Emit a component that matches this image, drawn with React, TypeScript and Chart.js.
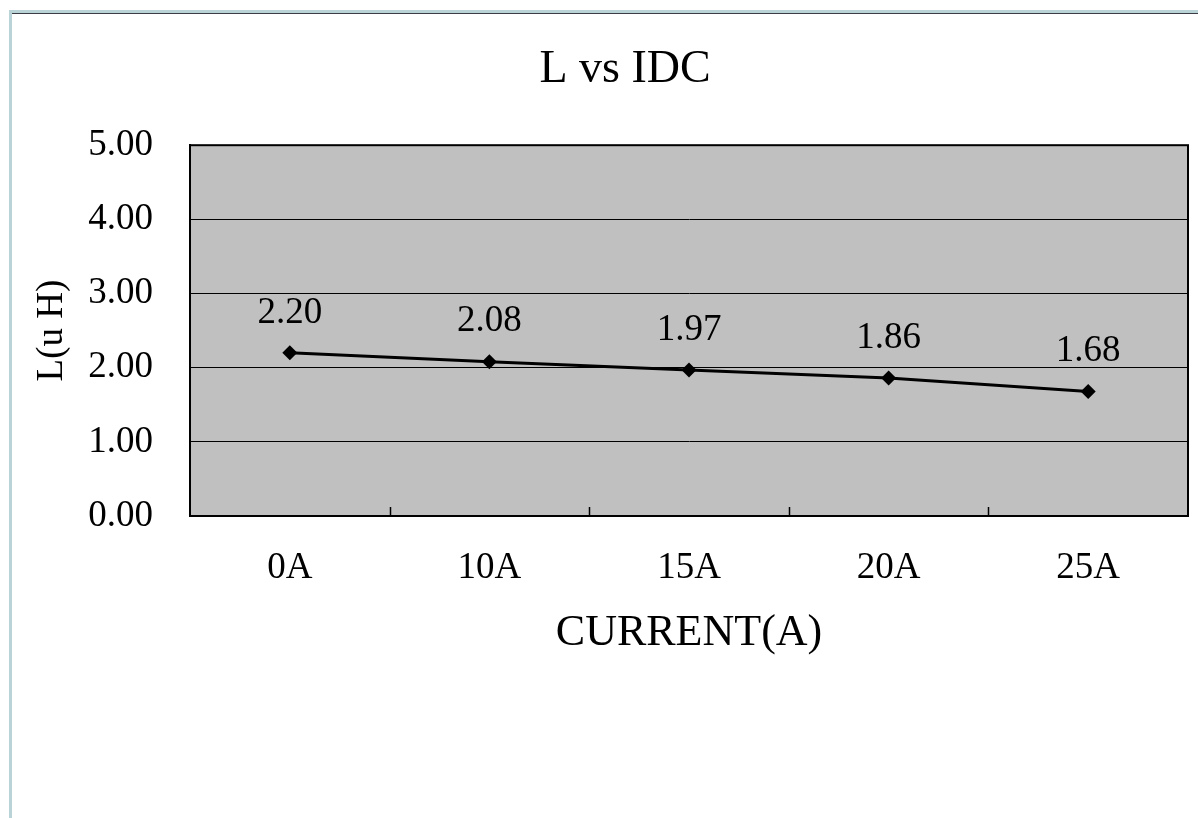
import React, { useEffect, useRef } from "react";
import { Chart, registerables } from "chart.js";

Chart.register(...registerables);

// ---- data ----
const categories = ["0A", "10A", "15A", "20A", "25A"];
const inductance = [2.2, 2.08, 1.97, 1.86, 1.68];
const yTickValues = [0, 1, 2, 3, 4, 5];
const chartTitle = "L vs IDC";
const xAxisTitle = "CURRENT(A)";
const yAxisTitle = "L(u H)";

const FONT = "'Liberation Serif', 'Times New Roman', serif";

const framePlugin = {
  id: "frame",
  beforeDraw(chart: any) {
    const { ctx, width, height, chartArea } = chart;
    ctx.save();
    ctx.fillStyle = "#ffffff";
    ctx.fillRect(0, 0, width, height);
    // outer window-like frame
    ctx.fillStyle = "#b9d3d6";
    ctx.fillRect(9, 10, 3, height - 10);
    ctx.fillRect(9, 10, width - 9, 3);
    ctx.fillStyle = "#3c3c44";
    ctx.fillRect(12, 13, width - 12, 1);
    // plot area background
    ctx.fillStyle = "#c0c0c0";
    ctx.fillRect(
      chartArea.left,
      chartArea.top,
      chartArea.right - chartArea.left,
      chartArea.bottom - chartArea.top
    );
    ctx.restore();
  },
};

const borderPlugin = {
  id: "plotBorder",
  beforeDatasetsDraw(chart: any) {
    const { ctx, chartArea, scales } = chart;
    const x = scales.x;
    ctx.save();
    ctx.strokeStyle = "#000000";
    ctx.lineWidth = 1.5;
    // inner tick marks between categories
    for (let i = 0; i < categories.length - 1; i++) {
      const px = Math.round(
        (x.getPixelForValue(i) + x.getPixelForValue(i + 1)) / 2
      ) + 0.5;
      ctx.beginPath();
      ctx.moveTo(px, chartArea.bottom);
      ctx.lineTo(px, chartArea.bottom - 9);
      ctx.stroke();
    }
    ctx.lineWidth = 2;
    ctx.strokeRect(
      chartArea.left,
      chartArea.top,
      chartArea.right - chartArea.left,
      chartArea.bottom - chartArea.top
    );
    ctx.restore();
  },
};

const labelPlugin = {
  id: "valueLabels",
  afterDatasetsDraw(chart: any) {
    const { ctx } = chart;
    const meta = chart.getDatasetMeta(0);
    const values = chart.data.datasets[0].data as number[];
    ctx.save();
    ctx.font = `37px ${FONT}`;
    ctx.fillStyle = "#000000";
    ctx.textAlign = "center";
    ctx.textBaseline = "middle";
    meta.data.forEach((pt: any, i: number) => {
      ctx.fillText(values[i].toFixed(2), pt.x, pt.y - 40);
    });
    ctx.restore();
  },
};

export default function App() {
  const canvasRef = useRef<HTMLCanvasElement | null>(null);

  useEffect(() => {
    if (!canvasRef.current) return;
    const chart = new Chart(canvasRef.current, {
      type: "line",
      data: {
        labels: categories,
        datasets: [
          {
            label: "L",
            data: inductance,
            borderColor: "#000000",
            backgroundColor: "#000000",
            borderWidth: 3,
            pointStyle: "rectRot",
            pointRadius: 7.5,
            pointBackgroundColor: "#000000",
            pointBorderColor: "#000000",
            pointBorderWidth: 0,
            tension: 0,
          },
        ],
      },
      options: {
        animation: false,
        responsive: true,
        maintainAspectRatio: false,
        events: [],
        layout: { padding: { left: 62, right: 10, top: 0, bottom: 152 } },
        plugins: {
          legend: { display: false },
          tooltip: { enabled: false },
          title: {
            display: true,
            text: chartTitle,
            color: "#000000",
            font: { family: FONT, size: 46, weight: "normal", lineHeight: 1.2 },
            padding: { top: 42, bottom: 48 },
          },
        },
        scales: {
          x: {
            type: "category",
            offset: true,
            grid: { display: false, drawTicks: false },
            border: { display: true, color: "#000000", width: 2 },
            ticks: {
              color: "#000000",
              padding: 30,
              font: { family: FONT, size: 37, lineHeight: 1.2 },
              maxRotation: 0,
            },
            title: {
              display: true,
              text: xAxisTitle,
              color: "#000000",
              font: { family: FONT, size: 44, lineHeight: 1.2 },
              padding: { top: 0, bottom: 6 },
            },
            afterFit(scale: any) {
              scale.height = 150;
            },
          },
          y: {
            min: 0,
            max: 5,
            grid: { color: "#000000", lineWidth: 1, drawTicks: false },
            border: { display: true, color: "#000000", width: 2 },
            ticks: {
              color: "#000000",
              padding: 37,
              font: { family: FONT, size: 37, lineHeight: 1.2 },
              callback: (v: any) => Number(v).toFixed(2),
            },
            afterBuildTicks(scale: any) {
              scale.ticks = yTickValues.map((v) => ({ value: v }));
            },
            title: {
              display: true,
              text: yAxisTitle,
              color: "#000000",
              font: { family: FONT, size: 37, lineHeight: 1.2 },
              padding: { top: -32, bottom: 0 },
            },
            afterFit(scale: any) {
              scale.width = 128;
            },
          },
        },
      },
      plugins: [framePlugin, borderPlugin, labelPlugin],
    });
    return () => chart.destroy();
  }, []);

  return (
    <div
      style={{
        position: "fixed",
        left: 0,
        top: 0,
        width: 1198,
        height: 818,
        background: "#ffffff",
      }}
    >
      <canvas ref={canvasRef} style={{ display: "block" }} />
    </div>
  );
}
